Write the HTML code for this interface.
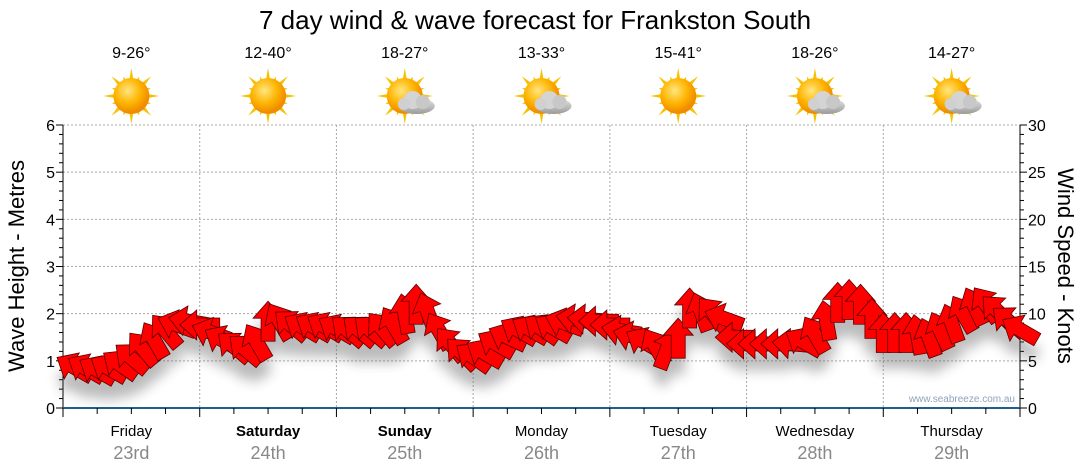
<!DOCTYPE html>
<html><head><meta charset="utf-8"><style>
body{margin:0;background:#fff;font-family:"Liberation Sans","DejaVu Sans",sans-serif}
svg{display:block}
</style></head><body>
<svg id="c" width="1080" height="475" xmlns="http://www.w3.org/2000/svg">
<defs>
<filter id="sh" x="-20%" y="-50%" width="140%" height="200%"><feGaussianBlur stdDeviation="6"/></filter>
<radialGradient id="sunG" cx="40%" cy="35%" r="60%"><stop offset="0" stop-color="#ffe680"/><stop offset="0.6" stop-color="#ffb400"/><stop offset="1" stop-color="#f08c00"/></radialGradient>
<linearGradient id="cloudG" x1="0" y1="0" x2="0" y2="1"><stop offset="0" stop-color="#e8e8e8"/><stop offset="1" stop-color="#9a9a9a"/></linearGradient>
</defs>
<text x="535" y="29" font-size="26" text-anchor="middle" fill="#000">7 day wind &amp; wave forecast for Frankston South</text>
<g id="grid"></g><g id="axes"></g><g id="days"></g><g id="shadow" filter="url(#sh)" opacity="0.4"></g><g id="arrows"></g>
<text x="1015" y="402" font-size="10" text-anchor="end" fill="#8fa3bf">www.seabreeze.com.au</text>
<text transform="translate(24,266) rotate(-90)" font-size="22" text-anchor="middle">Wave Height - Metres</text>
<text transform="translate(1058,266) rotate(90)" font-size="22" text-anchor="middle">Wind Speed - Knots</text>
</svg>
<script>
const dayNames=["Friday","Saturday","Sunday","Monday","Tuesday","Wednesday","Thursday"];
const dayBold=[false,true,true,false,false,false,false];
const dayDates=["23rd","24th","25th","26th","27th","28th","29th"];
const tempRanges=["9-26°","12-40°","18-27°","13-33°","15-41°","18-26°","14-27°"];
const skyCloudy=[false,false,true,true,false,true,true];
const waveTicks=[0,1,2,3,4,5,6];
const windTicks=[0,5,10,15,20,25,30];
const windSpeed=[4.3,4.2,4.0,4.2,4.6,5.3,6.3,7.2,8.2,8.8,9.2,8.8,
8.0,7.2,6.5,6.2,7.0,9.2,9.2,8.8,8.6,8.6,8.6,8.4,
8.2,8.2,8.2,8.4,8.8,10,11,10.2,8.2,6.8,5.8,5.4,
5.8,6.8,7.5,8.2,8.3,8.4,8.5,9.0,9.4,9.4,9.2,8.8,
8.2,7.6,7.0,6.5,6.2,7.4,10.6,10.2,10.0,9.5,7.5,6.8,
6.8,6.8,6.8,6.8,7.0,7.8,9.3,11.2,11.5,11.0,9.5,8.0,
8.0,8.0,7.8,7.5,8.2,9.0,10.0,10.8,11.0,10.3,9.2,8.3];
const windDir=[300,300,300,300,305,310,320,330,320,290,280,270,
290,300,310,310,330,0,330,310,300,300,300,300,
310,310,310,320,330,350,0,340,330,320,315,305,
300,300,295,300,300,305,300,290,280,275,270,270,
280,285,300,330,20,0,0,340,320,290,270,270,
270,270,270,275,300,330,350,0,0,0,0,0,
0,0,350,340,335,340,330,335,325,315,310,300];
const NS="http://www.w3.org/2000/svg";
const X0=63,X1=1020,Y0=408,Y6=125;
const hours=168;
const xS=h=>X0+(X1-X0)*h/hours;
const yW=m=>Y0-(Y0-Y6)*m/6;
const yK=k=>Y0-(Y0-Y6)*k/30;
function el(t,a,p,txt){const e=document.createElementNS(NS,t);for(const k in a)e.setAttribute(k,a[k]);if(txt!==undefined)e.textContent=txt;p.appendChild(e);return e;}
const grid=document.getElementById('grid'),axes=document.getElementById('axes'),days=document.getElementById('days');
waveTicks.forEach(v=>{if(v>0){const g=el('line',{x1:X0,x2:X1,y1:yW(v),y2:yW(v),stroke:'#aaa','stroke-dasharray':'2,2'},grid);

}
const t=el('text',{x:X0-8,y:yW(v)+6,'font-size':16,'text-anchor':'end'},axes,String(v));

});
for(let m=0;m<=30;m++){const y=yW(m*0.2);el('line',{x1:X0-(m%5?4:7),x2:X0,y1:y,y2:y,stroke:'#000'},axes);}
windTicks.forEach(v=>{const t=el('text',{x:X1+8,y:yK(v)+6,'font-size':16},axes,String(v));

});
for(let k=0;k<=30;k++){const y=yK(k);el('line',{x1:X1,x2:X1+(k%5?4:7),y1:y,y2:y,stroke:'#000'},axes);}
el('line',{x1:X0,x2:X0,y1:Y6,y2:Y0+6,stroke:'#000'},axes);
el('line',{x1:X1,x2:X1,y1:Y6,y2:Y0+6,stroke:'#000'},axes);
el('line',{x1:X0,x2:X1,y1:Y0,y2:Y0,stroke:'#1f5f8a','stroke-width':2},axes);
for(let h=0;h<=hours;h+=6){const x=xS(h);el('line',{x1:x,x2:x,y1:Y0,y2:Y0+(h%24?6:9),stroke:'#000'},axes);}
for(let d=0;d<7;d++){
 const x=xS(d*24),cx=xS(d*24+12);
 if(d>0){const g=el('line',{x1:x,x2:x,y1:Y6,y2:Y0,stroke:'#aaa','stroke-dasharray':'2,2'},grid);
 
 }
 const n=el('text',{x:cx,y:436,'font-size':15,'text-anchor':'middle','font-weight':dayBold[d]?'bold':'normal'},days,dayNames[d]);
 
 
 const dt=el('text',{x:cx,y:459,'font-size':18,'text-anchor':'middle',fill:'#888'},days,dayDates[d]);
 
 
 const tr=el('text',{x:cx,y:58,'font-size':16,'text-anchor':'middle'},days,tempRanges[d]);
 
 
 const g=el('g',{transform:`translate(${cx},96)`},days);
 
 
 for(let r=0;r<16;r++){const a=r*Math.PI/8,L=r%2?21:28;
  el('polygon',{points:`${Math.cos(a)*L},${Math.sin(a)*L} ${Math.cos(a+0.18)*14},${Math.sin(a+0.18)*14} ${Math.cos(a-0.18)*14},${Math.sin(a-0.18)*14}`,fill:'#f5c200'},g);}
 el('circle',{r:18,fill:'url(#sunG)'},g);
 if(skyCloudy[d]){
  const c=el('g',{transform:'translate(6,4)'},g);
  el('ellipse',{cx:6,cy:6,rx:18,ry:8,fill:'url(#cloudG)'},c);
  el('circle',{cx:2,cy:0,r:9,fill:'#d4d4d4'},c);
  el('circle',{cx:12,cy:2,r:7,fill:'#c8c8c8'},c);
  el('circle',{cx:-7,cy:4,r:6,fill:'#d0d0d0'},c);
 }
}
const arrowPts="20,0 3,-15 3,-7 -20,-7 -20,7 3,7 3,15";
const sh=document.getElementById('shadow'),ar=document.getElementById('arrows');
windSpeed.forEach((k,i)=>{
 const x=xS(i*2+2),y=yK(k),rot=windDir[i]-90;
 el('polygon',{points:arrowPts,transform:`translate(${x},${y+16}) rotate(${rot})`,fill:'#555'},sh);
 const a=el('polygon',{points:arrowPts,transform:`translate(${x},${y}) rotate(${rot})`,fill:'#ff0000',stroke:'#5a0000','stroke-width':0.8},ar);
 
 
});
</script>
</body></html>
